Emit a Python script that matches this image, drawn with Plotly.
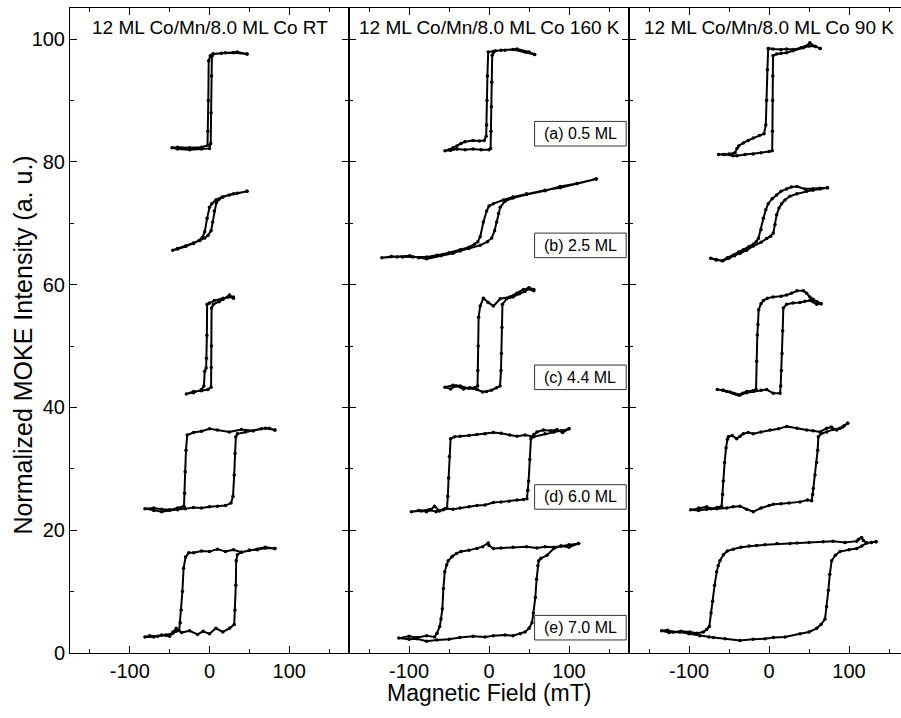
import plotly.graph_objects as go

# ---------------- data ----------------
# Magnetic field (mT) / normalized MOKE intensity (a.u.), loops traced: upper branch then lower branch
rt_a_x = [47, 30, 15, 4, 1, -1, -1.5, -2, -2.5, -10, -25, -40, -47, -40, -25, -10, 0, 1.5, 2, 2.5, 3, 5, 20, 35, 47]
rt_a_y = [97.6, 97.8, 97.7, 97.6, 97.3, 96.5, 90, 85, 82.7, 82.4, 82.3, 82.4, 82.3, 82.1, 82.0, 82.1, 82.2, 83.0, 88, 94, 97.2, 97.6, 97.8, 97.9, 97.6]

rt_b_x = [47, 30, 16, 8, 3, 0, -3, -6, -9, -13, -20, -30, -40, -46,
          -40, -30, -20, -12, -6, -2, 2, 4, 6, 8.5, 12, 17, 25, 35, 47]
rt_b_y = [75.2, 74.8, 74.3, 73.8, 73.2, 72.6, 70.8, 68.6, 67.7, 67.2, 66.8, 66.3, 65.9, 65.6,
          65.8, 66.2, 66.7, 67.2, 67.6, 68.0, 68.8, 70.2, 72.0, 73.3, 73.9, 74.3, 74.6, 74.9, 75.2]

rt_c_x = [30, 17, 6, 0, -3, -3.3, -3.8, -4.2, -6, -7, -10, -20, -29,
          -20, -10, -2, 2, 2.2, 2.4, 2.6, 5, 12, 17, 25, 30]
rt_c_y = [58.0, 57.8, 57.4, 57.0, 56.8, 51.7, 48, 46.4, 45.9, 43.5, 42.9, 42.4, 42.2,
          42.6, 42.7, 42.9, 43.3, 46.5, 50.0, 56.2, 56.8, 57.2, 57.6, 58.3, 57.8]

rt_d_x = [82, 70, 55, 40, 25, 10, 0, -10, -20, -28, -29.5, -30.5, -31.3, -32, -40, -50, -60, -70, -81,
          -70, -60, -50, -40, -30, -20, -10, 0, 10, 20, 27, 29.5, 31, 32, 33, 35, 45, 55, 65, 75, 82]
rt_d_y = [36.3, 36.6, 36.2, 36.4, 36.0, 36.3, 36.5, 36.1, 35.9, 35.5, 33.0, 29.5, 26.0, 23.9, 23.6, 23.3, 23.4, 23.6, 23.5,
          23.2, 23.0, 23.2, 23.3, 23.5, 23.7, 23.6, 23.8, 23.9, 24.0, 24.4, 25.5, 29.0, 32.5, 35.2, 35.7, 36.0, 36.2, 36.5, 36.6, 36.3]

rt_e_x = [82, 70, 60, 50, 40, 30, 20, 10, 0, -10, -20, -26, -30, -32.5, -34, -35.5, -36.7, -38, -42, -46, -55, -65, -75, -81,
          -70, -60, -50, -45.8, -41.7, -35, -25, -15, -8, 0, 8, 16.7, 25, 31, 32, 33, 33.5, 35, 40, 50, 60, 70, 82]
rt_e_y = [17.0, 17.1, 16.8, 16.7, 16.4, 16.8, 16.5, 16.9, 16.5, 16.6, 16.3, 16.3, 15.6, 13.8, 10.0, 7.0, 4.9, 3.6, 3.5, 3.2, 2.9, 2.7, 2.8, 2.6,
          2.6, 2.9, 2.7, 3.4, 4.0, 3.3, 3.6, 3.0, 3.5, 3.1, 4.0, 3.4, 4.0, 4.6, 7.0, 11.0, 15.0, 16.0, 16.4, 16.7, 16.9, 17.2, 17.0]

k160_a_x = [57, 45, 30, 15, 5, -1, -2, -2.5, -3, -3.5, -6, -12, -20, -30, -35, -40, -45, -50, -55,
            -48, -40, -30, -20, -10, 0, 2, 2.5, 3, 3.5, 4, 8, 20, 35, 50, 57]
k160_a_y = [97.5, 97.9, 98.3, 98.2, 98.0, 97.9, 94, 90, 86, 84.2, 83.5, 83.4, 83.5, 83.3, 83.0, 82.6, 82.3, 82.0, 81.8,
            81.9, 82.1, 82.0, 82.1, 82.0, 82.0, 82.2, 85, 89, 93, 97.4, 98.1, 98.2, 98.4, 97.9, 97.5]

k160_b_x = [134, 110, 89, 70, 47, 30, 18, 5.5, 0, -3, -7, -11, -14, -18, -25, -36, -50, -65, -78, -95, -108, -122, -134,
            -115, -99, -88, -78, -60, -45, -36, -25, -11, -2, 3.4, 7, 9.6, 12, 14, 20, 30, 47, 70, 89, 110, 134]
k160_b_y = [77.2, 76.5, 75.8, 75.4, 74.8, 74.3, 73.8, 73.2, 72.8, 72.0, 70.2, 67.8, 67.0, 66.6, 66.1, 65.7, 65.2, 64.8, 64.5, 64.5, 64.5, 64.6, 64.4,
            64.5, 64.7, 64.4, 64.2, 64.7, 65.1, 65.5, 65.9, 66.4, 67.0, 67.6, 68.8, 70.2, 71.6, 72.6, 73.6, 74.1, 74.7, 75.3, 76.0, 76.5, 77.2]

k160_c_x = [56, 48, 43, 35, 26, 14, 5.5, -1, -7, -11, -13, -13.5, -14, -14.3, -18, -24, -32, -41, -48, -55,
            -45, -36, -25, -15, -8, -3, 3, 9.6, 13.8, 15, 15.5, 16.2, 16.8, 22, 30, 38, 45, 50, 56]
k160_c_y = [59.0, 59.3, 59.2, 58.6, 58.0, 57.7, 56.5, 57.1, 57.8, 56.5, 54.7, 50, 46, 43.5, 43.2, 43.2, 43.0, 43.5, 43.0, 43.3,
            43.6, 43.5, 43.1, 42.9, 42.5, 42.6, 42.8, 43.2, 43.5, 46, 48.8, 53, 56.8, 57.7, 58.0, 58.5, 58.9, 59.5, 59.2]

k160_d_x = [100, 90, 81, 70, 56, 45, 35, 26, 15, 5.5, -5, -15, -25, -36, -43, -48, -49.5, -50.5, -51.5, -52.5, -57, -62, -68, -73, -78, -88, -97,
            -85, -75, -66, -55, -45, -36, -25, -15, -5, 5.5, 15, 25, 35, 43, 47.4, 48.5, 49.5, 51, 52.4, 56, 60, 68, 77, 85, 92, 100]
k160_d_y = [36.5, 36.2, 36.0, 35.7, 35.2, 35.5, 35.3, 35.5, 35.8, 35.9, 35.7, 35.6, 35.4, 35.3, 35.2, 34.9, 32.0, 28.5, 25.5, 23.6, 23.3, 23.1, 23.9, 23.3, 23.0, 23.2, 23.0,
            23.1, 23.3, 23.0, 23.5, 23.4, 23.6, 23.8, 24.0, 24.1, 24.5, 24.6, 24.7, 24.9, 25.0, 25.1, 26.5, 28.0, 31.5, 34.9, 35.6, 36.0, 36.3, 36.2, 36.4, 35.9, 36.5]

k160_e_x = [112, 100, 90, 81, 70, 60, 47, 30, 15, 5.5, 0, -1, -8, -15, -25, -35, -40.7, -46, -51, -53, -55.3, -57, -58.3, -60, -61.6, -65, -68, -78, -90, -100, -112.8,
            -100, -90, -78, -65, -50, -36.5, -20, -5, 5.5, 20, 30, 39, 45, 50, 53.7, 55.5, 57.9, 59.5, 61, 62.1, 65, 72.5, 80.9, 90, 100, 112]
k160_e_y = [17.8, 17.6, 17.4, 17.2, 17.3, 17.1, 17.3, 17.2, 17.1, 17.0, 17.5, 17.9, 17.3, 17.0, 16.7, 16.5, 16.2, 15.7, 15.0, 14.3, 13.2, 10.5, 7.2, 5.5, 4.3, 3.2, 2.6, 2.8, 2.5, 2.7, 2.4,
            2.2, 2.3, 1.9, 2.1, 2.2, 2.5, 2.7, 2.6, 2.8, 2.9, 2.8, 3.1, 3.4, 4.0, 4.9, 6.5, 9.0, 12, 14.2, 15.0, 15.4, 15.9, 17.0, 17.4, 17.2, 17.8]

k90_a_x = [64, 58, 51, 45, 40, 30, 22, 15, 5, 0, -1, -2, -3, -4, -6.2, -12, -19.6, -26, -32, -38, -40, -42.5, -50, -57, -63,
           -55, -45, -40, -30, -19.6, -10, 0, 4, 4.3, 4.6, 4.8, 5, 9.6, 15, 22, 30, 43, 50, 58, 64]
k90_a_y = [98.5, 98.8, 99.4, 98.8, 98.6, 98.3, 98.4, 98.3, 98.4, 98.5, 98.5, 95, 90, 86, 84.6, 84.3, 83.9, 83.5, 83.1, 82.6, 82.2, 81.5, 81.3, 81.2, 81.2,
           81.2, 81.0, 81.0, 81.2, 81.3, 81.5, 81.7, 81.8, 85, 90, 94, 97.3, 97.6, 97.7, 97.8, 98.1, 98.6, 98.9, 98.8, 98.5]

k90_b_x = [73, 64, 55, 45, 35, 28, 22, 15, 9.6, 4, -1, -4, -7, -10, -13.3, -16, -19.6, -25, -32, -38, -44.6, -52, -59, -66, -73,
           -66, -57.5, -50, -43, -36, -28, -19.6, -10, -3, 2, 5.4, 7.5, 9.6, 12.5, 15.8, 20, 26, 35, 47, 55, 64, 73]
k90_b_y = [75.8, 75.7, 75.6, 75.6, 76.0, 75.9, 75.6, 75.2, 74.6, 74.0, 73.2, 72.2, 70.8, 69.0, 67.5, 67.0, 66.6, 66.2, 65.7, 65.3, 64.8, 64.4, 63.9, 64.1, 64.3,
           64.0, 63.9, 64.3, 64.7, 65.1, 65.6, 66.3, 66.9, 67.5, 67.9, 68.4, 69.8, 71.4, 72.5, 73.2, 73.8, 74.4, 74.8, 75.2, 75.4, 75.6, 75.8]

k90_c_x = [65, 60, 55, 51, 47, 43, 35, 28, 22, 15, 5, -2, -7, -10, -12.9, -13.8, -14.6, -15.4, -16.2, -20, -27.9, -33, -38.3, -45, -52.9, -58, -64.6,
           -57, -48.7, -42, -36.2, -28, -19.6, -10, -2.9, 5.4, 13.8, 14.6, 15.5, 16.3, 17.1, 17.9, 22.1, 30, 38.7, 45, 51.2, 55, 59.6, 65]
k90_c_y = [56.9, 57.2, 57.6, 58.0, 58.6, 59.0, 59.0, 58.6, 58.3, 58.1, 58.0, 57.8, 57.4, 56.9, 55.9, 53.5, 51.8, 47.5, 42.9, 42.7, 42.6, 42.3, 42.0, 42.3, 42.6, 42.8, 42.9,
           42.8, 42.5, 42.2, 42.0, 42.4, 42.6, 42.8, 42.9, 42.3, 42.3, 43.5, 46, 48.8, 52.5, 56.2, 56.8, 57.0, 57.1, 57.3, 57.4, 57.2, 56.8, 56.9]

k90_d_x = [98.3, 92, 84.6, 78, 72.1, 63.8, 55, 47.1, 35, 22.1, 12, 1.2, -10, -19.6, -26, -32.1, -36, -40.4, -46, -50.8, -52, -53.7, -55.5, -57.1, -58, -59.2, -65, -72, -77.9, -88, -97.9,
           -88, -77.9, -65, -52.9, -45, -36.2, -28, -19.6, -10, 0, 5.4, 15, 25, 38.7, 48, 53.3, 54.5, 55.4, 57.5, 59.6, 60.8, 61.7, 65, 72.1, 80, 88.8, 94, 98.3]
k90_d_y = [37.4, 36.8, 36.3, 36.8, 36.6, 36.0, 36.2, 36.3, 36.6, 36.9, 36.5, 36.3, 36.0, 35.7, 35.9, 35.7, 35.3, 34.9, 35.4, 35.2, 34.8, 33.4, 31.0, 28.0, 25.8, 23.9, 23.7, 23.5, 23.8, 23.6, 23.3,
           23.2, 23.4, 23.5, 23.6, 23.8, 23.9, 23.4, 23.0, 23.6, 24.0, 24.2, 24.3, 24.4, 24.6, 24.9, 24.8, 25.8, 26.8, 29.0, 31.0, 33.0, 35.2, 35.7, 36.0, 36.4, 36.6, 37.0, 37.4]

k90_e_x = [133.8, 128, 122, 118, 115.8, 112, 109.6, 95, 80, 67.9, 50, 35, 26.2, 10, -5, -15.4, -25, -35, -44.6, -52.1, -57, -61.3, -63.5, -65.4, -68, -70.4, -72.5, -74.6, -78, -82.1, -90, -98.8, -110, -119.6, -127, -134.2,
           -125, -111.3, -100, -86.3, -75, -69.6, -55, -36.3, -20, -5, 5.4, 20, 38.8, 50, 59.6, 65, 70, 72, 74.2, 76, 78.3, 83, 88.8, 100, 109.6, 116, 122, 128, 133.8]
k90_e_y = [18.1, 18.0, 17.9, 18.3, 18.8, 18.5, 18.2, 18.0, 18.2, 18.1, 18.0, 17.9, 17.8, 17.8, 17.6, 17.5, 17.4, 17.2, 16.9, 16.6, 16.0, 15.0, 14.2, 13.2, 11.0, 8.4, 6.5, 4.3, 3.8, 3.4, 3.2, 3.4, 3.5, 3.4, 3.7, 3.6,
           3.3, 3.4, 3.1, 2.8, 2.6, 2.5, 2.3, 2.0, 2.2, 2.3, 2.5, 2.6, 3.1, 3.4, 4.0, 4.6, 5.5, 7.5, 10.2, 12.8, 15.0, 15.9, 16.5, 16.8, 17.0, 17.4, 17.9, 18.0, 18.1]

panel_titles = ["12 ML Co/Mn/8.0 ML Co RT", "12 ML Co/Mn/8.0 ML Co 160 K", "12 ML Co/Mn/8.0 ML Co 90 K"]
thickness_labels = ["(a) 0.5 ML", "(b) 2.5 ML", "(c) 4.4 ML", "(d) 6.0 ML", "(e) 7.0 ML"]
label_y = [84.6, 66.4, 44.9, 25.4, 4.1]
x_tick_vals = [-100, 0, 100]
x_tick_text = ["-100", "0", "100"]
y_tick_vals = [0, 20, 40, 60, 80, 100]
x_title = "Magnetic Field (mT)"
y_title = "Normalized MOKE Intensity (a. u.)"

panels = [
    [(rt_a_x, rt_a_y), (rt_b_x, rt_b_y), (rt_c_x, rt_c_y), (rt_d_x, rt_d_y), (rt_e_x, rt_e_y)],
    [(k160_a_x, k160_a_y), (k160_b_x, k160_b_y), (k160_c_x, k160_c_y), (k160_d_x, k160_d_y), (k160_e_x, k160_e_y)],
    [(k90_a_x, k90_a_y), (k90_b_x, k90_b_y), (k90_c_x, k90_c_y), (k90_d_x, k90_d_y), (k90_e_x, k90_e_y)],
]

# ---------------- figure ----------------
W, H = 901, 718
FONT = "Liberation Sans, Arial, Helvetica, sans-serif"
fig = go.Figure()

for i, loops in enumerate(panels):
    xa = "x" if i == 0 else f"x{i+1}"
    ya = "y" if i == 0 else f"y{i+1}"
    for lx, ly in loops:
        fig.add_trace(go.Scatter(
            x=lx, y=ly, xaxis=xa, yaxis=ya, mode="lines+markers",
            line=dict(color="black", width=2),
            marker=dict(color="black", size=3.5),
            showlegend=False, hoverinfo="skip"))

ydom = [55 / H, 710 / H]
xdoms = [[70 / W, 349 / W], [349 / W, 629 / W], [629 / W, 1.0]]
xranges = [[-175, 175], [-175, 175], [-175, 165]]

common = dict(showline=True, linecolor="black", linewidth=1, ticks="inside",
              ticklen=7, tickwidth=1, tickcolor="black", showgrid=False, zeroline=False,
              tickfont=dict(family=FONT, size=20, color="black"))

layout = dict(width=W, height=H, margin=dict(l=0, r=0, t=0, b=0),
              paper_bgcolor="white", plot_bgcolor="white", autosize=False,
              font=dict(family=FONT, color="black"))

for i in range(3):
    xk = "xaxis" if i == 0 else f"xaxis{i+1}"
    yk = "yaxis" if i == 0 else f"yaxis{i+1}"
    anchor_y = "y" if i == 0 else f"y{i+1}"
    anchor_x = "x" if i == 0 else f"x{i+1}"
    layout[xk] = dict(common, domain=xdoms[i], range=xranges[i], anchor=anchor_y,
                      tickvals=x_tick_vals, ticktext=x_tick_text, mirror="ticks",
                      minor=dict(tickvals=[-150, -50, 50, 150], ticks="inside", ticklen=4,
                                 tickcolor="black", showgrid=False))
    layout[yk] = dict(common, domain=ydom, range=[0, 105.1], anchor=anchor_x,
                      tickvals=y_tick_vals,
                      showticklabels=(i == 0), mirror=("ticks" if i < 2 else False),
                      minor=dict(tickvals=[10, 30, 50, 70, 90], ticks="inside", ticklen=4,
                                 tickcolor="black", showgrid=False))
fig.update_layout(**layout)

annotations = []
shapes = []
for i, t in enumerate(panel_titles):
    xr = "x" if i == 0 else f"x{i+1}"
    yr = "y" if i == 0 else f"y{i+1}"
    annotations.append(dict(text=t, x=0, y=101.9, xref=xr, yref=yr, showarrow=False,
                            xanchor="center", yanchor="middle",
                            font=dict(family=FONT, size=19, color="black")))
for t, yc in zip(thickness_labels, label_y):
    shapes.append(dict(type="rect", xref="x2", yref="y2", x0=57, x1=171.5, y0=yc - 2.0, y1=yc + 2.0,
                       line=dict(color="#333333", width=1), fillcolor="white", layer="above"))
    annotations.append(dict(text=t, x=114, y=yc, xref="x2", yref="y2", showarrow=False,
                            xanchor="center", yanchor="middle",
                            font=dict(family=FONT, size=16, color="black")))
annotations.append(dict(text=x_title, x=489 / W, y=(H - 704) / H, xref="paper", yref="paper",
                        showarrow=False, xanchor="center", yanchor="middle",
                        font=dict(family=FONT, size=23, color="black")))
annotations.append(dict(text=y_title, x=23 / W, y=(H - 351) / H, xref="paper", yref="paper",
                        showarrow=False, xanchor="center", yanchor="middle", textangle=-90,
                        font=dict(family=FONT, size=25, color="black")))
fig.update_layout(annotations=annotations, shapes=shapes)

fig.write_html("out.html")
